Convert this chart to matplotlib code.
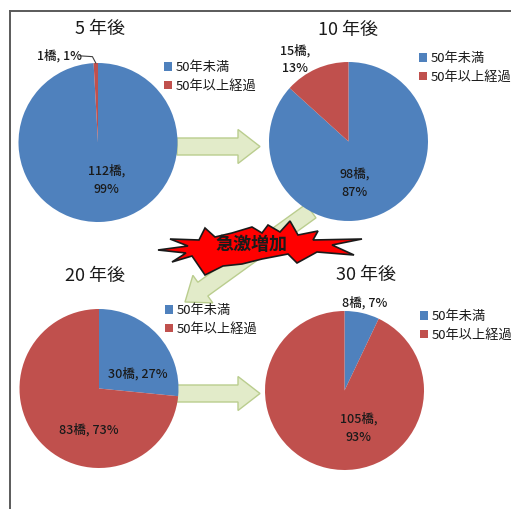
import numpy as np
import matplotlib
matplotlib.use("Agg")
import matplotlib.pyplot as plt
from matplotlib.patches import Polygon, FancyArrow

plt.rcParams['font.family'] = ['Noto Sans CJK JP', 'DejaVu Sans']

W, H = 511, 509

# 橋梁数（経過年数別）
titles = ['5 年後', '10 年後', '20 年後', '30 年後']
categories = ['50年未満', '50年以上経過']
under_50 = [112, 98, 30, 8]
over_50 = [1, 15, 83, 105]

colors = ['#4F81BD', '#C0504D']

# layout in pixels (x right, y down)
centers = [(98, 142.5), (348.5, 141.5), (99, 388.5), (344.5, 390.5)]
R = 79.5
title_xy = [(0.03, 1.43), (0.0, 1.40), (-0.05, 1.415), (0.27, 1.45)]
legend_xy = [(164, 61), (419, 52), (165, 304), (420, 310)]
# label positions in radius units: (blue, red)
label_xy = [[(0.11, -0.47), (-0.49, 1.09)],
            [(0.08, -0.52), (-0.67, 1.03)],
            [(0.49, 0.19), (-0.13, -0.52)],
            [(0.26, 1.10), (0.18, -0.47)]]
label_sep = [[',\n', ', '], [',\n', ',\n'], [', ', ', '], [', ', ',\n']]

fig = plt.figure(figsize=(W / 100, H / 100), dpi=100)

# background layer for frame, arrows and burst
bg = fig.add_axes([0, 0, 1, 1])
bg.set_xlim(0, W)
bg.set_ylim(H, 0)
bg.axis('off')

bg.plot([10, 10], [11, H], color='#5a5a5a', lw=1.4)
bg.plot([10, W], [11, 11], color='#5a5a5a', lw=1.4)

arrow_kw = dict(width=17, head_width=34, head_length=22, length_includes_head=True,
                facecolor='#E2EBC9', edgecolor='#BACD8E', lw=1.0)
bg.add_patch(FancyArrow(177, 146.5, 83, 0, **arrow_kw))
bg.add_patch(FancyArrow(177, 393.5, 83, 0, **arrow_kw))
bg.add_patch(FancyArrow(311, 211, -126, 91, **arrow_kw))

burst = [(158, 250), (188, 246), (170, 239), (199, 240), (205, 228), (215, 237),
         (232, 233), (252, 227), (262, 233), (268, 225), (280, 232), (290, 221),
         (298, 235), (318, 231), (313, 240), (362, 239), (332, 245), (354, 255),
         (317, 252), (297, 263), (288, 254), (262, 259), (242, 264), (223, 266),
         (205, 275), (192, 256), (172, 262), (186, 253)]
bg.add_patch(Polygon(burst, closed=True, facecolor='#FF0000', edgecolor='#1a1a1a',
                     lw=1.2, zorder=5))
bg.text(251, 244, '急激増加', ha='center', va='center', fontsize=13,
        fontweight='bold', color='#1a1a1a', zorder=6)

for i in range(4):
    cx, cy = centers[i]
    ax = fig.add_axes([(cx - R) / W, 1 - (cy + R) / H, 2 * R / W, 2 * R / H])
    vals = [under_50[i], over_50[i]]
    wedges, _ = ax.pie(vals, colors=colors, startangle=90, counterclock=False,
                       radius=1, wedgeprops=dict(linewidth=0))
    ax.set_xlim(-1, 1)
    ax.set_ylim(-1, 1)
    ax.axis('off')

    total = sum(vals)
    for j, v in enumerate(vals):
        pct = round(v / total * 100)
        tx, ty = label_xy[i][j]
        ax.text(tx, ty, f'{v}橋{label_sep[i][j]}{pct}%', ha='center', va='center',
                fontsize=9, fontweight='medium', color='#1a1a1a', linespacing=1.5,
                clip_on=False)

    # leader line for the thin slice
    if i == 0:
        mid = np.deg2rad(90 + 0.5 * over_50[i] / total * 360)
        ex, ey = np.cos(mid), np.sin(mid)
        ax.plot([-0.23, -0.07, ex], [1.09, 1.08, ey], color='#404040', lw=0.8,
                clip_on=False)

    ax.text(title_xy[i][0], title_xy[i][1], titles[i], ha='center', va='center',
            fontsize=13, color='#1a1a1a', clip_on=False)

    lx, ly = legend_xy[i]
    ax.legend(wedges, categories, loc='upper left',
              bbox_to_anchor=(lx / W, 1 - ly / H), bbox_transform=fig.transFigure,
              frameon=False, fontsize=9.5, borderpad=0, borderaxespad=0,
              handlelength=0.6, handleheight=0.6, handletextpad=0.25,
              labelspacing=0.45, labelcolor='#1a1a1a')

fig.savefig('out.png', dpi=100, facecolor='white')
